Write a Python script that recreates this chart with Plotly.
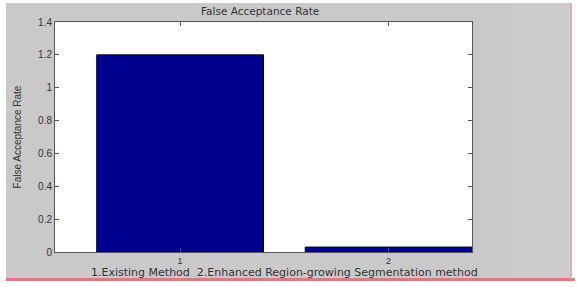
import plotly.graph_objects as go

categories = [1, 2]
far_values = [1.2, 0.03]
y_ticks = [0, 0.2, 0.4, 0.6, 0.8, 1.0, 1.2, 1.4]
y_tick_labels = ["0", "0.2", "0.4", "0.6", "0.8", "1", "1.2", "1.4"]
title_text = "False Acceptance Rate"
x_label = "1.Existing Method  2.Enhanced Region-growing Segmentation method"
y_label = "False Acceptance Rate"

fig = go.Figure()
fig.add_trace(go.Bar(
    x=categories, y=far_values, width=0.8,
    marker=dict(color="#00008f", line=dict(color="#000030", width=1)),
))

L, R, T, B = 55, 106, 22, 35
pw, ph = 578 - L - R, 287 - T - B
def px_x(p):
    return (p - L) / pw
def px_y(p):
    return (287 - B - p) / ph

wide = "DejaVu Sans, Verdana, sans-serif"
fig.update_layout(
    width=578, height=287,
    margin=dict(l=L, r=R, t=T, b=B, pad=0, autoexpand=False),
    paper_bgcolor="white",
    plot_bgcolor="white",
    showlegend=False,
    font=dict(family="Liberation Sans, Arial", size=9, color="#333333"),
    annotations=[
        dict(text=title_text, xref="paper", yref="paper", x=px_x(260), y=px_y(11),
             xanchor="center", yanchor="middle", showarrow=False,
             font=dict(family=wide, size=10.5, color="#333333")),
        dict(text=x_label, xref="paper", yref="paper", x=px_x(284), y=px_y(272.5),
             xanchor="center", yanchor="middle", showarrow=False,
             font=dict(family=wide, size=11, color="#333333")),
    ],
    shapes=[
        dict(type="rect", xref="paper", yref="paper", x0=px_x(6), x1=px_x(570),
             y0=px_y(278), y1=px_y(3), fillcolor="#c9c9c9", line=dict(width=0), layer="below"),
        dict(type="rect", xref="paper", yref="paper", x0=px_x(512), x1=px_x(570),
             y0=px_y(278), y1=px_y(3), fillcolor="#cdcdcd", line=dict(width=0), layer="below"),
        dict(type="line", xref="paper", yref="paper", x0=px_x(6), x1=px_x(575),
             y0=px_y(279.5), y1=px_y(279.5), line=dict(color="#d08080", width=3), layer="below"),
        dict(type="line", xref="paper", yref="paper", x0=px_x(571), x1=px_x(571),
             y0=px_y(279), y1=px_y(3), line=dict(color="#e0b0b0", width=2), layer="below"),
        dict(type="rect", xref="paper", yref="paper", x0=0, x1=1, y0=0, y1=1,
             fillcolor="white", line=dict(width=0), layer="below"),
    ],
)
fig.update_xaxes(
    range=[0.4, 2.4], tickvals=categories, ticktext=["1", "2"],
    ticks="inside", ticklen=4, tickcolor="#555555", mirror="ticks", automargin=False,
    showline=True, linecolor="#555555", linewidth=1, showgrid=False, zeroline=False,
    tickfont=dict(size=9),
)
fig.update_yaxes(
    range=[0, 1.4], tickvals=y_ticks, ticktext=y_tick_labels,
    ticks="inside", ticklen=4, tickcolor="#555555", mirror="ticks", automargin=False,
    showline=True, linecolor="#555555", linewidth=1, showgrid=False, zeroline=False,
    tickfont=dict(size=10),
    title=dict(text=y_label, standoff=14, font=dict(size=10, color="#333333")),
)

fig.write_html("out.html", config={"displayModeBar": False},
               post_script="document.body.style.margin='0';")
